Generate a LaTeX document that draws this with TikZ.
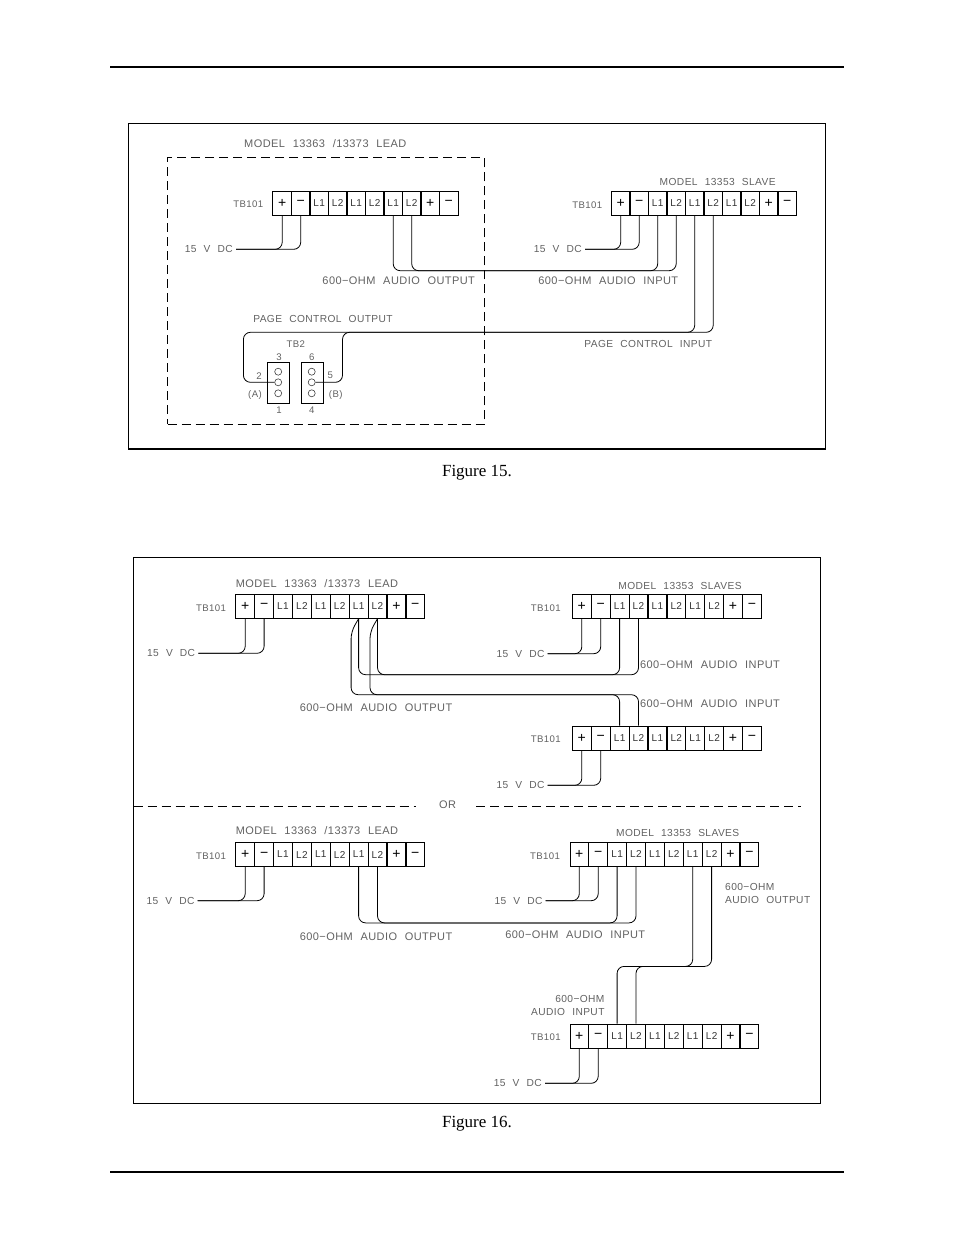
\documentclass[tikz,border=0pt]{standalone}
\usepackage{fontspec}
\setmainfont{Liberation Sans}
\newfontfamily\cadfont[LetterSpace=4,WordSpace=2.2]{Liberation Sans}
\newfontfamily\capfont{Liberation Serif}
\begin{document}
\begin{tikzpicture}[x=1pt,y=-1pt]
\tikzstyle{termcell} = [rectangle, draw=black, line width=0.8pt, minimum width=18.7pt, minimum height=24pt, inner sep=0pt, font=\cadfont\fontsize{10}{10}\selectfont, text=black!80]
\tikzstyle{termsign} = [termcell, font=\fontsize{14}{14}\selectfont, text=black]
\tikzstyle{cadtext} = [inner sep=3pt, font=\cadfont\fontsize{11}{13}\selectfont, text=black!62]
\tikzstyle{cadtight} = [inner sep=3pt, font=\cadfont\fontsize{10.2}{13}\selectfont, text=black!62]
\tikzstyle{smalltext} = [inner sep=1pt, font=\cadfont\fontsize{9.6}{12}\selectfont, text=black!62]
\tikzstyle{captext} = [inner sep=1pt, font=\capfont\fontsize{17}{18}\selectfont, text=black]
\tikzstyle{framebox} = [rectangle, draw=black, line width=0.8pt, inner sep=0pt]
\tikzstyle{leadbox} = [rectangle, draw=black, line width=0.8pt, dash pattern=on 9pt off 5pt, inner sep=0pt]
\tikzstyle{tbbox} = [rectangle, draw=black, line width=0.8pt, inner sep=0pt, minimum width=22pt, minimum height=41.5pt]
\tikzstyle{tbpin} = [circle, draw=black!75, line width=0.6pt, inner sep=0pt, minimum size=7pt]
\tikzstyle{wire} = [draw=black, line width=0.8pt, rounded corners=7pt]
\tikzstyle{dashline} = [draw=black, line width=0.8pt, dash pattern=on 9pt off 5pt]

\useasboundingbox (0,0) rectangle (954,1235);

\draw[line width=2.4pt] (110,67) -- (844,67);
\draw[line width=1.8pt] (110,1172) -- (844,1172);

\node[framebox, minimum width=697pt, minimum height=325pt] (figA) at (477.2,286) {};
\draw[line width=1.8pt] (figA.south west) -- (figA.south east);
\node[framebox, minimum width=687pt, minimum height=546pt] (figB) at (477.2,830.3) {};
\node[leadbox, minimum width=317pt, minimum height=266.5pt] (leadA) at (326.2,291) {};

\node[captext] (capA) at (477,473) {Figure 15.};
\node[captext] (capB) at (477,1124) {Figure 16.};

\node[termsign] (A1) at (282.2,203.3) {+};
\node[termsign] (A2) at (300.7,203.3) {−};
\node[termcell] (A3) at (319.2,203.3) {L1};
\node[termcell] (A4) at (337.7,203.3) {L2};
\node[termcell] (A5) at (356.2,203.3) {L1};
\node[termcell] (A6) at (374.7,203.3) {L2};
\node[termcell] (A7) at (393.2,203.3) {L1};
\node[termcell] (A8) at (411.7,203.3) {L2};
\node[termsign] (A9) at (430.2,203.3) {+};
\node[termsign] (A10) at (448.7,203.3) {−};

\node[termsign] (B1) at (620.7,203.3) {+};
\node[termsign] (B2) at (639.2,203.3) {−};
\node[termcell] (B3) at (657.7,203.3) {L1};
\node[termcell] (B4) at (676.2,203.3) {L2};
\node[termcell] (B5) at (694.7,203.3) {L1};
\node[termcell] (B6) at (713.2,203.3) {L2};
\node[termcell] (B7) at (731.7,203.3) {L1};
\node[termcell] (B8) at (750.2,203.3) {L2};
\node[termsign] (B9) at (768.7,203.3) {+};
\node[termsign] (B10) at (787.2,203.3) {−};

\node[termsign] (C1) at (245.2,606.3) {+};
\node[termsign] (C2) at (264.1,606.3) {−};
\node[termcell] (C3) at (283,606.3) {L1};
\node[termcell] (C4) at (301.9,606.3) {L2};
\node[termcell] (C5) at (320.8,606.3) {L1};
\node[termcell] (C6) at (339.7,606.3) {L2};
\node[termcell] (C7) at (358.6,606.3) {L1};
\node[termcell] (C8) at (377.5,606.3) {L2};
\node[termsign] (C9) at (396.4,606.3) {+};
\node[termsign] (C10) at (415.3,606.3) {−};

\node[termsign] (D1) at (581.8,606.3) {+};
\node[termsign] (D2) at (600.7,606.3) {−};
\node[termcell] (D3) at (619.6,606.3) {L1};
\node[termcell] (D4) at (638.5,606.3) {L2};
\node[termcell] (D5) at (657.4,606.3) {L1};
\node[termcell] (D6) at (676.3,606.3) {L2};
\node[termcell] (D7) at (695.2,606.3) {L1};
\node[termcell] (D8) at (714.1,606.3) {L2};
\node[termsign] (D9) at (733,606.3) {+};
\node[termsign] (D10) at (751.9,606.3) {−};

\node[termsign] (E1) at (581.8,738) {+};
\node[termsign] (E2) at (600.7,738) {−};
\node[termcell] (E3) at (619.6,738) {L1};
\node[termcell] (E4) at (638.5,738) {L2};
\node[termcell] (E5) at (657.4,738) {L1};
\node[termcell] (E6) at (676.3,738) {L2};
\node[termcell] (E7) at (695.2,738) {L1};
\node[termcell] (E8) at (714.1,738) {L2};
\node[termsign] (E9) at (733,738) {+};
\node[termsign] (E10) at (751.9,738) {−};

\node[termsign] (F1) at (245.2,854.5) {+};
\node[termsign] (F2) at (264.1,854.5) {−};
\node[termcell] (F3) at (283,854.5) {L1};
\node[termcell] (F4) at (301.9,854.5) {L2};
\node[termcell] (F5) at (320.8,854.5) {L1};
\node[termcell] (F6) at (339.7,854.5) {L2};
\node[termcell] (F7) at (358.6,854.5) {L1};
\node[termcell] (F8) at (377.5,854.5) {L2};
\node[termsign] (F9) at (396.4,854.5) {+};
\node[termsign] (F10) at (415.3,854.5) {−};

\node[termsign] (G1) at (579.3,854) {+};
\node[termsign] (G2) at (598.2,854) {−};
\node[termcell] (G3) at (617.1,854) {L1};
\node[termcell] (G4) at (636,854) {L2};
\node[termcell] (G5) at (654.9,854) {L1};
\node[termcell] (G6) at (673.8,854) {L2};
\node[termcell] (G7) at (692.7,854) {L1};
\node[termcell] (G8) at (711.6,854) {L2};
\node[termsign] (G9) at (730.5,854) {+};
\node[termsign] (G10) at (749.4,854) {−};

\node[termsign] (H1) at (579.3,1036) {+};
\node[termsign] (H2) at (598.2,1036) {−};
\node[termcell] (H3) at (617.1,1036) {L1};
\node[termcell] (H4) at (636,1036) {L2};
\node[termcell] (H5) at (654.9,1036) {L1};
\node[termcell] (H6) at (673.8,1036) {L2};
\node[termcell] (H7) at (692.7,1036) {L1};
\node[termcell] (H8) at (711.6,1036) {L2};
\node[termsign] (H9) at (730.5,1036) {+};
\node[termsign] (H10) at (749.4,1036) {−};

\node[cadtext] (modelA) at (325.3,143.3) {MODEL 13363 /13373 LEAD};
\node[cadtight] (modelB) at (717.7,182.3) {MODEL 13353 SLAVE};
\node[cadtext] (modelC) at (317,583.3) {MODEL 13363 /13373 LEAD};
\node[cadtight] (modelD) at (680,585.7) {MODEL 13353 SLAVES};
\node[cadtext] (modelF) at (317,830.7) {MODEL 13363 /13373 LEAD};
\node[cadtight] (modelG) at (677.7,832.7) {MODEL 13353 SLAVES};

\node[smalltext] (tbA) at (248.3,204.3) {TB101};
\node[smalltext] (tbB) at (587.3,205) {TB101};
\node[smalltext] (tbC) at (211,608.3) {TB101};
\node[smalltext] (tbD) at (545.7,607.7) {TB101};
\node[smalltext] (tbE) at (545.7,739) {TB101};
\node[smalltext] (tbF) at (211,856) {TB101};
\node[smalltext] (tbG) at (545,856.3) {TB101};
\node[smalltext] (tbH) at (545.7,1037) {TB101};

\node[cadtight, anchor=east] (dcA) at (236,249.3) {15 V DC};
\node[cadtight, anchor=east] (dcB) at (585,249.3) {15 V DC};
\node[cadtight, anchor=east] (dcC) at (198.3,653.3) {15 V DC};
\node[cadtight, anchor=east] (dcD) at (547.7,653.7) {15 V DC};
\node[cadtight, anchor=east] (dcE) at (547.7,785.3) {15 V DC};
\node[cadtight, anchor=east] (dcF) at (197.7,900.7) {15 V DC};
\node[cadtight, anchor=east] (dcG) at (545.7,900.7) {15 V DC};
\node[cadtight, anchor=east] (dcH) at (545,1083.3) {15 V DC};

\node[cadtext] (outA) at (398.7,281) {600−OHM AUDIO OUTPUT};
\node[cadtext] (inB) at (608.3,281) {600−OHM AUDIO INPUT};
\node[cadtight] (pageA) at (323,319.3) {PAGE CONTROL OUTPUT};
\node[cadtight] (pageB) at (648.3,344.3) {PAGE CONTROL INPUT};
\node[cadtext] (outC) at (376,707.3) {600−OHM AUDIO OUTPUT};
\node[cadtext] (inD) at (710,664.3) {600−OHM AUDIO INPUT};
\node[cadtext] (inE) at (710,703.7) {600−OHM AUDIO INPUT};
\node[cadtext] (outF) at (376,937) {600−OHM AUDIO OUTPUT};
\node[cadtext] (inG) at (575.3,935) {600−OHM AUDIO INPUT};
\node[cadtight, anchor=west, align=left] (outG) at (722,893) {600−OHM\\AUDIO OUTPUT};
\node[cadtight, anchor=east, align=right] (inH) at (607.7,1005) {600−OHM\\AUDIO INPUT};
\node[cadtext] (orN) at (447.7,805) {OR};

\node[tbbox] (tbL) at (278.2,383) {};
\node[tbbox] (tbR) at (312,383) {};
\node[tbpin] (P3) at (278.2,371.7) {};
\node[tbpin] (P2) at (278.2,382.3) {};
\node[tbpin] (P1) at (278.2,393.3) {};
\node[tbpin] (P6) at (311.7,371.7) {};
\node[tbpin] (P5) at (311.7,382.3) {};
\node[tbpin] (P4) at (311.7,393.3) {};
\node[smalltext] (tbTwo) at (295.7,343.7) {TB2};
\node[smalltext] (n3) at (279,356.7) {3};
\node[smalltext] (n6) at (311.7,356.7) {6};
\node[smalltext] (n1) at (279,409.7) {1};
\node[smalltext] (n4) at (311.7,409.7) {4};
\node[smalltext] (n2) at (259,375.7) {2};
\node[smalltext] (n5) at (330.3,375.7) {5};
\node[smalltext] (pA) at (255,394.7) {(A)};
\node[smalltext] (pB) at (335.7,394.7) {(B)};

\coordinate (orL) at (133.5,806);
\coordinate (orA) at (416,806);
\coordinate (orB) at (476,806);
\coordinate (orR) at (801,806);

\draw[wire] (dcA.east) -| (A1.south);
\draw[wire] (dcA.east) -| (A2.south);
\draw[wire] (dcB.east) -| (B1.south);
\draw[wire] (dcB.east) -| (B2.south);
\draw[wire] (A7.south) -- ++(0,55) -| (B3.south);
\draw[wire] (A8.south) -- ++(0,55) -| (B4.south);
\draw[wire] (P2.west) -- ++(-31,0) -- ++(0,-50) -| (B5.south);
\draw[wire] (P5.east) -- ++(27,0) -- ++(0,-50) -| (B6.south);

\draw[wire] (dcC.east) -| (C1.south);
\draw[wire] (dcC.east) -| (C2.south);
\draw[wire] (dcD.east) -| (D1.south);
\draw[wire] (dcD.east) -| (D2.south);
\draw[wire] (dcE.east) -| (E1.south);
\draw[wire] (dcE.east) -| (E2.south);
\draw[wire] (C7.south) -- ++(0,56) -| (D3.south);
\draw[wire] (C8.south) -- ++(0,56) -| (D4.south);
\draw[wire] (C7.south) -- ++(-7.5,13) -- ++(0,63) -| (E3.north);
\draw[wire] (C8.south) -- ++(-7.5,13) -- ++(0,63) -| (E4.north);
\draw[dashline] (orL) -- (orA);
\draw[dashline] (orB) -- (orR);

\draw[wire] (dcF.east) -| (F1.south);
\draw[wire] (dcF.east) -| (F2.south);
\draw[wire] (dcG.east) -| (G1.south);
\draw[wire] (dcG.east) -| (G2.south);
\draw[wire] (dcH.east) -| (H1.south);
\draw[wire] (dcH.east) -| (H2.south);
\draw[wire] (F7.south) -- ++(0,56) -| (G3.south);
\draw[wire] (F8.south) -- ++(0,56) -| (G4.south);
\draw[wire] (G7.south) -- ++(0,100) -| (H3.north);
\draw[wire] (G8.south) -- ++(0,100) -| (H4.north);
\end{tikzpicture}
\end{document}
